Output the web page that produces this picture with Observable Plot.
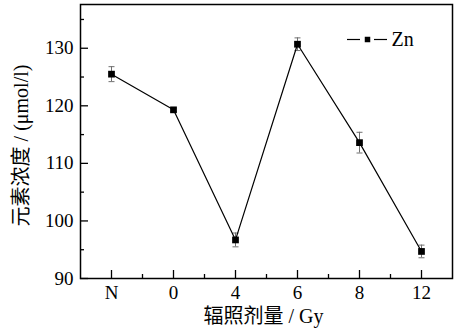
<!DOCTYPE html>
<html>
<head>
<meta charset="utf-8">
<script src="https://cdn.jsdelivr.net/npm/d3@7"></script>
<script src="https://cdn.jsdelivr.net/npm/@observablehq/plot@0.6"></script>
<style>
  body { margin: 0; background: #fff; }
</style>
</head>
<body>
<div id="chart"></div>
<script>
// Zn concentration by irradiation dose (N = unirradiated control)
const doses = ["N", "0", "4", "6", "8", "12"];
const zn = [125.5, 119.3, 96.7, 130.7, 113.6, 94.7];
const znErr = [1.3, 0.3, 1.2, 1.1, 1.8, 1.1];
const yTicks = [90, 100, 110, 120, 130];
const yMinorTicks = [95, 105, 115, 125, 135];
const xMinorTicks = [0.5, 1.5, 2.5, 3.5, 4.5];
const seriesName = "Zn";
const xLabel = "辐照剂量 / Gy";
const yLabel = "元素浓度 / (μmol/l)";

const rows = doses.map((dose, i) => ({i, dose, v: zn[i], e: znErr[i]}));

const W = 459, H = 332;
const mL = 80, mR = 7, mT = 4, mB = 54;
const plotW = W - mL - mR, plotH = H - mT - mB;
const font = "'Liberation Serif', 'Noto Sans CJK SC', serif";

// horizontal-stroke symbol used for error-bar caps and legend line pieces
const hbar = (half) => ({
  draw(ctx) { ctx.moveTo(-half, 0); ctx.lineTo(half, 0); }
});

const chart = Plot.plot({
  width: W,
  height: H,
  marginLeft: mL,
  marginRight: mR,
  marginTop: mT,
  marginBottom: mB,
  style: {fontFamily: font, fontSize: "19px"},
  x: {domain: [-0.5, doses.length - 0.5]},
  y: {domain: [90, 137.6]},
  marks: [
    // tick labels
    Plot.axisX({ticks: d3.range(doses.length), tickFormat: (i) => doses[i],
      tickSize: 0, tickPadding: 7, label: null, fontSize: 19, fontFamily: font}),
    Plot.axisY({ticks: yTicks, tickSize: 0, tickPadding: 7, label: null, fontSize: 19, fontFamily: font}),
    // inward ticks
    Plot.ruleX(d3.range(doses.length), {insetTop: plotH - 8, stroke: "#000", strokeWidth: 1.3}),
    Plot.ruleX(xMinorTicks, {insetTop: plotH - 4, stroke: "#000", strokeWidth: 1.3}),
    Plot.ruleY(yTicks, {insetRight: plotW - 8, stroke: "#000", strokeWidth: 1.3}),
    Plot.ruleY(yMinorTicks, {insetRight: plotW - 4, stroke: "#000", strokeWidth: 1.3}),
    // error bars
    Plot.ruleX(rows, {x: "i", y1: (d) => d.v - d.e, y2: (d) => d.v + d.e, stroke: "#707070", strokeWidth: 1}),
    Plot.dot(rows, {x: "i", y: (d) => d.v - d.e, symbol: hbar(3), stroke: "#707070", strokeWidth: 1}),
    Plot.dot(rows, {x: "i", y: (d) => d.v + d.e, symbol: hbar(3), stroke: "#707070", strokeWidth: 1}),
    // series
    Plot.line(rows, {x: "i", y: "v", stroke: "#000", strokeWidth: 1.2}),
    Plot.dot(rows, {x: "i", y: "v", symbol: "square", fill: "#000", stroke: null, r: 3.8}),
    Plot.frame({stroke: "#000", strokeWidth: 1.5}),
    // legend
    Plot.dot([0], {frameAnchor: "top-right", dx: -99, dy: 35, symbol: hbar(6.5), stroke: "#000", strokeWidth: 1.2}),
    Plot.dot([0], {frameAnchor: "top-right", dx: -85, dy: 35, symbol: "square", fill: "#000", stroke: null, r: 3.1}),
    Plot.dot([0], {frameAnchor: "top-right", dx: -72, dy: 35, symbol: hbar(6.5), stroke: "#000", strokeWidth: 1.2}),
    Plot.text([seriesName], {frameAnchor: "top-right", dx: -61, dy: 41, textAnchor: "start",
      lineAnchor: "bottom", fontSize: 20, fontFamily: font, fill: "#000"}),
    // axis titles
    Plot.text([xLabel], {frameAnchor: "bottom", dy: 44, dx: -3, textAnchor: "middle", lineAnchor: "bottom",
      fontSize: 20, fontFamily: font, fill: "#000"}),
    Plot.text([yLabel], {frameAnchor: "left", dx: -59, dy: 4, rotate: -90, textAnchor: "middle",
      lineAnchor: "middle", fontSize: 20, fontFamily: font, fill: "#000"})
  ]
});

document.getElementById("chart").appendChild(chart);
</script>
</body>
</html>
